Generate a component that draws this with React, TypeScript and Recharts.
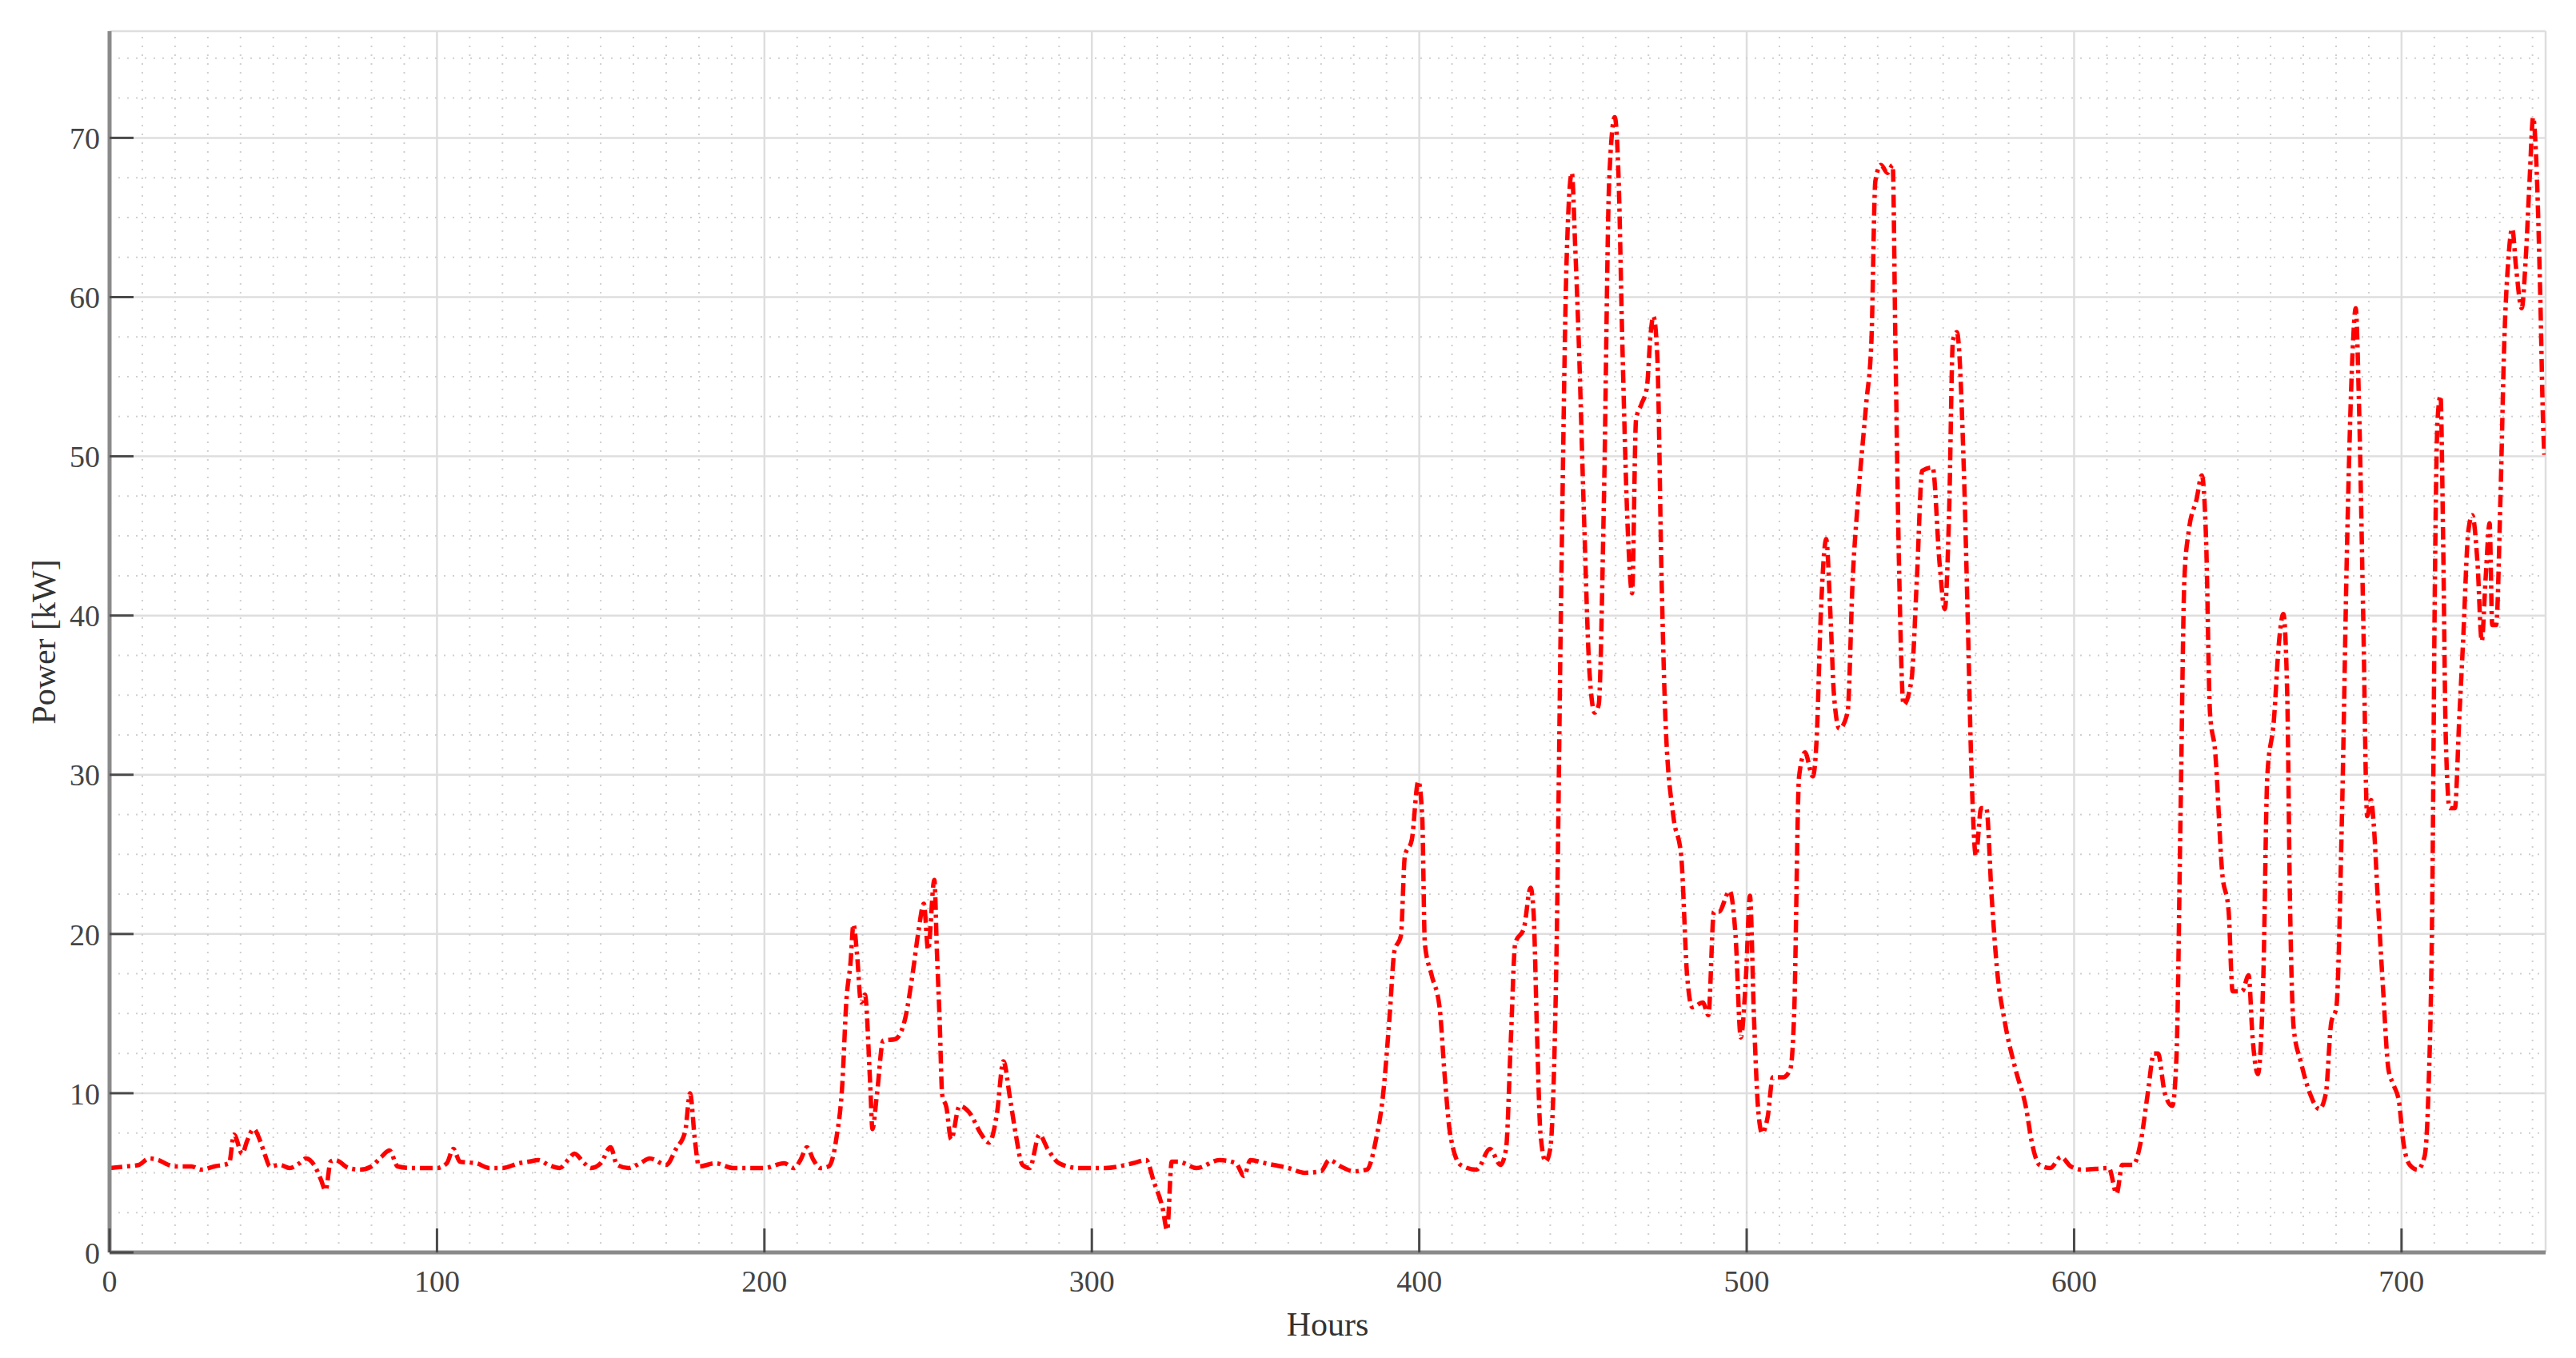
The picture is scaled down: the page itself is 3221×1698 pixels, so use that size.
import {
  LineChart,
  Line,
  XAxis,
  YAxis,
  CartesianGrid,
  ReferenceLine,
  Label,
} from "recharts";

// hourly power readings (kW)
const HOURS = [
  0, 5, 9, 12, 15, 18, 20, 25, 28, 32, 36.5, 38, 40.5, 42, 44, 46, 47.5, 49, 52, 55,
  58, 60, 63, 64.5, 66, 67.5, 69, 73, 76.5, 80, 83, 85.5, 88, 92, 100, 103, 105, 107, 112, 116,
  120, 125, 128, 131, 134, 137.5, 140, 142, 145, 147, 150, 153, 155, 158.5, 162, 165, 170, 173, 175.8, 177.3,
  178.7, 180, 185, 190.5, 195, 200, 206, 209, 211, 213, 215, 217, 219.6, 222, 223.8, 225, 226.3, 227.2, 228.3, 229.5,
  230.7, 232.3, 233, 234.3, 236.3, 240, 243, 245.4, 247, 248.7, 250, 251.9, 252.7, 253.5, 254.3, 255.6, 257, 259.6, 262.9, 266,
  268.6, 271, 273, 275, 276.7, 278.8, 281, 284, 286.5, 290, 296, 304, 312.5, 316.6, 319, 321.6, 323, 324.4, 326.4, 332,
  339, 344, 346.5, 348.4, 353, 360, 365, 370, 372.5, 376, 380, 384, 386.7, 389, 391, 392.4, 394.4, 395.6, 397.7, 399.7,
  400.9, 401.7, 403.8, 406.2, 407.8, 409.4, 412.6, 417.5, 421.6, 424.8, 426.5, 428, 429.3, 432, 434, 434.9, 436, 437, 438.6, 440,
  441.8, 443.4, 445, 446.6, 447.6, 448.7, 450.3, 452, 453.6, 454.8, 456.4, 458, 459.7, 460.9, 462, 463.8, 465, 466.2, 467.9, 469.5,
  470.7, 471.5, 472.7, 474, 475.2, 477.6, 480, 481.8, 483.4, 486.6, 488.3, 490, 491.5, 494.8, 496.6, 498.2, 499.8, 501, 502.2, 503.5,
  504.7, 506.4, 508, 511.2, 513.3, 514.5, 516, 517.8, 520.2, 521.4, 522.6, 524.3, 525.5, 526.7, 528.3, 530.8, 532.4, 534, 536.5, 538.1,
  539.3, 541, 543, 544.6, 545.4, 546.6, 547.9, 550.3, 552, 553.6, 556.8, 558.9, 560.5, 561.8, 563, 564.2, 566.3, 567.5, 568.7, 570,
  571.6, 573.2, 574.8, 576.4, 578.9, 582.1, 585.4, 587, 589.4, 592.7, 596, 599, 602.5, 610.6, 613, 614.7, 618, 620.4, 622.5, 624.4,
  625.6, 627.7, 630, 631.3, 632.5, 633.7, 635, 637.4, 639, 640.3, 641.5, 643.1, 645.2, 647.2, 648.4, 651.3, 653.3, 654.5, 656.1, 657.8,
  659, 661, 662.6, 663.9, 665.1, 665.9, 667.1, 669.2, 672, 674.9, 676.9, 678.5, 680.1, 681.8, 683.4, 685, 686, 687, 688.3, 689.5,
  690.7, 691.5, 692.7, 694.4, 696, 697.6, 699.2, 700.5, 702.5, 704.9, 707, 708.2, 709.4, 710.2, 711, 711.9, 712.7, 713.5, 714.7, 716.3,
  717.6, 718.8, 720.4, 721.6, 723.2, 724.5, 725.7, 726.9, 727.7, 728.9, 730.2, 731.4, 732.6, 733.8, 735, 736.7, 737.9, 739.1, 740.2, 741.1,
  742.4, 743.2, 743.6,
];

const POWER = [
  5.3, 5.4, 5.5, 5.9, 5.8, 5.5, 5.4, 5.4, 5.2, 5.4, 5.6, 7.4, 6.2, 7.0, 7.75, 7.0, 6.1, 5.4, 5.5, 5.3,
  5.6, 5.9, 5.3, 4.6, 3.9, 5.7, 5.8, 5.3, 5.2, 5.4, 6.0, 6.4, 5.4, 5.3, 5.3, 5.6, 6.5, 5.7, 5.6, 5.3,
  5.3, 5.6, 5.7, 5.8, 5.5, 5.3, 5.8, 6.2, 5.6, 5.3, 5.6, 6.6, 5.5, 5.3, 5.6, 5.9, 5.5, 6.5, 7.6, 10.0,
  7.2, 5.4, 5.6, 5.3, 5.3, 5.3, 5.6, 5.3, 5.8, 6.6, 5.8, 5.3, 5.4, 7.2, 10.6, 15.7, 18.2, 20.6, 18.7, 15.7,
  16.2, 10.6, 7.75, 9.8, 13.3, 13.4, 14.7, 17.7, 20.1, 21.9, 19.0, 23.4, 18.8, 14.7, 9.9, 9.1, 7.1, 9.2, 8.7, 7.5,
  6.9, 8.7, 12.0, 9.7, 7.5, 5.5, 5.3, 7.4, 6.5, 5.6, 5.3, 5.3, 5.6, 5.8, 4.4, 2.8, 1.4, 5.7, 5.7, 5.3,
  5.8, 5.6, 4.8, 5.8, 5.6, 5.3, 5.0, 5.1, 5.8, 5.4, 5.1, 5.2, 7.0, 10.0, 15.0, 18.9, 19.9, 24.9, 25.9, 29.6,
  27.4, 19.4, 17.4, 15.4, 11.0, 7.5, 5.5, 5.2, 6.5, 5.5, 6.5, 13.5, 19.4, 20.4, 22.9, 21.4, 13.5, 7.5, 5.7, 6.5,
  17.4, 42.4, 62.3, 67.8, 63.3, 57.3, 46.3, 36.4, 33.9, 34.4, 47.3, 67.3, 71.3, 67.3, 57.3, 44.8, 41.4, 52.3, 53.3, 54.3,
  57.8, 58.8, 56.3, 42.4, 33.4, 27.4, 24.9, 17.4, 15.4, 15.7, 14.9, 21.4, 21.4, 22.7, 19.9, 13.5, 17.4, 22.4, 14.9, 9.0,
  7.5, 8.5, 11.0, 11.0, 11.5, 15.0, 29.9, 31.4, 29.9, 32.4, 39.9, 44.8, 40.4, 34.9, 32.9, 33.9, 42.4, 47.3, 53.3, 57.3,
  67.3, 68.3, 67.8, 68.3, 57.3, 42.4, 34.4, 35.9, 42.4, 49.1, 49.3, 43.3, 40.4, 46.3, 57.3, 57.8, 49.3, 39.9, 29.9, 24.9,
  27.9, 27.9, 22.4, 17.9, 14.4, 11.5, 9.0, 7.0, 5.5, 5.3, 6.0, 5.4, 5.2, 5.3, 3.7, 5.5, 5.5, 7.0, 10.0, 12.5,
  12.5, 10.0, 9.2, 12.5, 27.4, 42.4, 45.3, 47.3, 48.8, 44.8, 33.9, 31.4, 23.9, 21.4, 16.4, 16.4, 17.4, 13.5, 11.2, 17.4,
  29.9, 33.4, 38.4, 40.1, 34.9, 22.4, 14.0, 12.0, 10.0, 9.0, 10.0, 14.4, 15.4, 27.4, 44.8, 56.3, 59.3, 53.3, 39.9, 27.4,
  28.4, 26.9, 22.4, 16.4, 11.5, 10.5, 9.5, 7.0, 5.5, 5.2, 6.0, 10.0, 22.4, 42.4, 52.3, 53.8, 44.8, 32.4, 27.9, 27.9,
  33.4, 38.4, 45.3, 46.3, 43.3, 38.4, 42.4, 45.8, 39.4, 39.4, 47.3, 57.3, 62.3, 64.3, 61.8, 59.3, 62.3, 67.3, 71.3, 68.8,
  59.8, 52.3, 50.1,
];

const X_TICKS = [0, 100, 200, 300, 400, 500, 600, 700];
const Y_TICKS = [0, 10, 20, 30, 40, 50, 60, 70];
const X_MAX = 744;
const Y_MAX = 76.7;

// minor grid: every 10 h and every 2.5 kW
const MINOR_X = Array.from({ length: 74 }, (_, i) => (i + 1) * 10).filter((v) => v % 100 !== 0);
const MINOR_Y = Array.from({ length: 30 }, (_, i) => (i + 1) * 2.5).filter((v) => v % 10 !== 0);

const data = HOURS.map((h, i) => ({ hour: h, power: POWER[i] }));

const FONT = "'Liberation Serif', 'Times New Roman', serif";
const BOX = "#8a8a8a";
const TICK = "#4a4a4a";
const TICK_LEN = 30;

const LeftTick = (p: any) => (
  <g>
    <line x1={p.x + 12} x2={p.x + 12 + TICK_LEN} y1={p.y} y2={p.y} stroke={TICK} strokeWidth={3} />
    <text x={p.x} y={p.y} dy="0.36em" textAnchor="end" fontFamily={FONT} fontSize={38} fill="#444">
      {p.payload.value}
    </text>
  </g>
);

const BottomTick = (p: any) => (
  <g>
    <line x1={p.x} x2={p.x} y1={p.y - 22} y2={p.y - 22 - TICK_LEN} stroke={TICK} strokeWidth={3} />
    <text x={p.x} y={p.y} dy="0.72em" textAnchor="middle" fontFamily={FONT} fontSize={38} fill="#444">
      {p.payload.value}
    </text>
  </g>
);

const TopTick = (p: any) => (
  <line x1={p.x} x2={p.x} y1={p.y} y2={p.y + TICK_LEN} stroke={TICK} strokeWidth={3} />
);

const RightTick = (p: any) => (
  <line x1={p.x} x2={p.x - TICK_LEN} y1={p.y} y2={p.y} stroke={TICK} strokeWidth={3} />
);

const YTitle = (p: any) => {
  const vb = p.viewBox || { x: 0, y: 39, width: 137, height: 1527 };
  const x = vb.x + 55;
  const y = vb.y + vb.height / 2;
  return (
    <text
      x={x}
      y={y}
      transform={`rotate(-90, ${x}, ${y})`}
      textAnchor="middle"
      dominantBaseline="central"
      fontFamily={FONT}
      fontSize={42}
      fill="#333"
    >
      Power [kW]
    </text>
  );
};

const XTitle = (p: any) => {
  const vb = p.viewBox || { x: 137, y: 1566, width: 3046, height: 132 };
  return (
    <text
      x={vb.x + vb.width / 2}
      y={vb.y + 104}
      textAnchor="middle"
      fontFamily={FONT}
      fontSize={42}
      fill="#333"
    >
      Hours
    </text>
  );
};

export default function App() {
  return (
    <div style={{ position: "absolute", left: 0, top: 0, background: "#fff" }}>
      <LineChart
        width={3221}
        height={1698}
        data={data}
        margin={{ top: 39, right: 38, bottom: 0, left: 0 }}
      >
        <CartesianGrid stroke="#dedede" strokeWidth={2.5} />
        {MINOR_X.map((v) => (
          <ReferenceLine key={"mx" + v} x={v} stroke="#cfcfcf" strokeWidth={2} strokeDasharray="2 9" />
        ))}
        {MINOR_Y.map((v) => (
          <ReferenceLine key={"my" + v} y={v} stroke="#cfcfcf" strokeWidth={2} strokeDasharray="2 9" />
        ))}
        <XAxis
          dataKey="hour"
          type="number"
          domain={[0, X_MAX]}
          ticks={X_TICKS}
          allowDataOverflow
          height={132}
          tickSize={0}
          tickMargin={22}
          tickLine={false}
          axisLine={{ stroke: BOX, strokeWidth: 5 }}
          tick={BottomTick}
          interval={0}
        >
          <Label content={XTitle} />
        </XAxis>
        <XAxis
          xAxisId="top"
          orientation="top"
          dataKey="hour"
          type="number"
          domain={[0, X_MAX]}
          ticks={X_TICKS}
          allowDataOverflow
          height={0}
          tickSize={0}
          tickMargin={0}
          tickLine={false}
          axisLine={{ stroke: BOX, strokeWidth: 5 }}
          tick={TopTick}
          interval={0}
        />
        <YAxis
          type="number"
          domain={[0, Y_MAX]}
          ticks={Y_TICKS}
          allowDataOverflow
          width={137}
          tickSize={0}
          tickMargin={12}
          tickLine={false}
          axisLine={{ stroke: BOX, strokeWidth: 5 }}
          tick={LeftTick}
          interval={0}
        >
          <Label content={YTitle} />
        </YAxis>
        <YAxis
          yAxisId="right"
          orientation="right"
          type="number"
          domain={[0, Y_MAX]}
          ticks={Y_TICKS}
          allowDataOverflow
          width={0}
          tickSize={0}
          tickMargin={0}
          tickLine={false}
          axisLine={{ stroke: BOX, strokeWidth: 5 }}
          tick={RightTick}
          interval={0}
        />
        <Line
          type="monotoneX"
          dataKey="power"
          stroke="#ff0000"
          strokeWidth={5.5}
          strokeDasharray="16 6 4 6"
          dot={false}
          isAnimationActive={false}
        />
      </LineChart>
    </div>
  );
}
